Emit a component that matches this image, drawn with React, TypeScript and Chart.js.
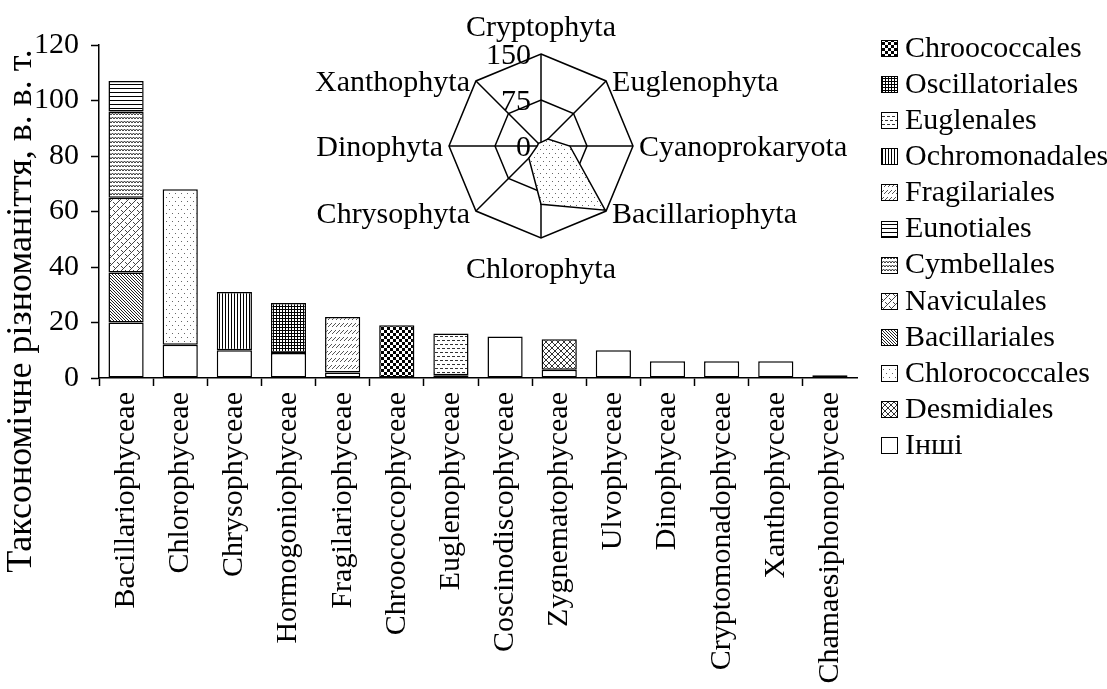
import React, { useEffect, useRef } from 'react';
import { Chart, registerables } from 'chart.js';

Chart.register(...registerables);

const FONT = "'Liberation Serif', 'Times New Roman', serif";

// ---------- data ----------
const categories = [
  'Bacillariophyceae', 'Chlorophyceae', 'Chrysophyceae', 'Hormogoniophyceae',
  'Fragilariophyceae', 'Chroococcophyceae', 'Euglenophyceae', 'Coscinodiscophyceae',
  'Zygnematophyceae', 'Ulvophyceae', 'Dinophyceae', 'Cryptomonadophyceae',
  'Xanthophyceae', 'Chamaesiphonophyceae',
];

const inshi =           [20, 12, 10, 9, 2, 0, 1, 15, 3, 10, 6, 6, 6, 1];
const desmidiales =     [0, 0, 0, 0, 0, 0, 0, 0, 11, 0, 0, 0, 0, 0];
const chlorococcales =  [0, 56, 0, 0, 0, 0, 0, 0, 0, 0, 0, 0, 0, 0];
const bacillariales =   [18, 0, 0, 0, 0, 0, 0, 0, 0, 0, 0, 0, 0, 0];
const naviculales =     [27, 0, 0, 0, 0, 0, 0, 0, 0, 0, 0, 0, 0, 0];
const cymbellales =     [31, 0, 0, 0, 0, 0, 0, 0, 0, 0, 0, 0, 0, 0];
const eunotiales =      [11, 0, 0, 0, 0, 0, 0, 0, 0, 0, 0, 0, 0, 0];
const fragilariales =   [0, 0, 0, 0, 20, 0, 0, 0, 0, 0, 0, 0, 0, 0];
const ochromonadales =  [0, 0, 21, 0, 0, 0, 0, 0, 0, 0, 0, 0, 0, 0];
const euglenales =      [0, 0, 0, 0, 0, 0, 15, 0, 0, 0, 0, 0, 0, 0];
const oscillatoriales = [0, 0, 0, 18, 0, 0, 0, 0, 0, 0, 0, 0, 0, 0];
const chroococcales =   [0, 0, 0, 0, 0, 19, 0, 0, 0, 0, 0, 0, 0, 0];

// stack order: bottom -> top
const seriesNames = [
  'Інші', 'Desmidiales', 'Chlorococcales', 'Bacillariales', 'Naviculales', 'Cymbellales',
  'Eunotiales', 'Fragilariales', 'Ochromonadales', 'Euglenales', 'Oscillatoriales', 'Chroococcales',
];
const seriesValues = [
  inshi, desmidiales, chlorococcales, bacillariales, naviculales, cymbellales,
  eunotiales, fragilariales, ochromonadales, euglenales, oscillatoriales, chroococcales,
];
const seriesPatterns = [
  'white', 'cross', 'dots', 'diagDown', 'weave', 'wave',
  'horiz', 'shortDiag', 'vert', 'dashH', 'grid', 'checker',
];

const yTicks = [0, 20, 40, 60, 80, 100, 120];
const yTitle = 'Таксономічне різноманіття, в. в. т.';

const radarLabels = [
  'Cryptophyta', 'Euglenophyta', 'Cyanoprokaryota', 'Bacillariophyta',
  'Chlorophyta', 'Chrysophyta', 'Dinophyta', 'Xanthophyta',
];
const radarValues = [6, 16, 47, 148, 95, 28, 6, 6];
const radarTicks = [0, 75, 150];

// ---------- patterns ----------
function makePattern(kind: string): CanvasPattern | string {
  if (kind === 'white') return '#ffffff';
  const c = document.createElement('canvas');
  const g = c.getContext('2d') as CanvasRenderingContext2D;
  const size = (w: number, h: number) => {
    c.width = w; c.height = h;
    g.fillStyle = '#fff'; g.fillRect(0, 0, w, h);
  };
  const diag = (s: number, dir: number, color: string, lw = 1) => {
    g.strokeStyle = color; g.lineWidth = lw;
    for (let k = -s; k <= s; k += s) {
      g.beginPath();
      if (dir === 1) { g.moveTo(k, s); g.lineTo(k + s, 0); }
      else { g.moveTo(k, 0); g.lineTo(k + s, s); }
      g.stroke();
    }
  };
  switch (kind) {
    case 'checker':
      size(6, 6); g.fillStyle = '#000'; g.fillRect(0, 0, 3, 3); g.fillRect(3, 3, 3, 3); break;
    case 'grid':
      size(3, 3); g.fillStyle = '#000'; g.fillRect(0, 0, 3, 1); g.fillRect(0, 0, 1, 3); break;
    case 'dashH':
      size(10, 8); g.fillStyle = '#333';
      g.fillRect(0, 0, 3, 1); g.fillRect(5, 0, 3, 1); g.fillRect(2, 4, 3, 1); g.fillRect(7, 4, 3, 1); break;
    case 'vert':
      size(3, 3); g.fillStyle = '#000'; g.fillRect(0, 0, 1, 3); break;
    case 'shortDiag':
      size(4, 7); g.strokeStyle = '#555'; g.lineWidth = 1;
      g.beginPath(); g.moveTo(0, 5); g.lineTo(4, 1); g.stroke(); break;
    case 'horiz':
      size(4, 4); g.fillStyle = '#000'; g.fillRect(0, 0, 4, 1); break;
    case 'wave':
      size(6, 4); g.strokeStyle = '#333'; g.lineWidth = 1;
      g.beginPath(); g.moveTo(0, 3); g.lineTo(1.5, 1); g.lineTo(3, 3); g.lineTo(4.5, 1); g.lineTo(6, 3); g.stroke(); break;
    case 'weave':
      size(8, 8); diag(8, 1, '#444');
      g.beginPath(); g.moveTo(1, 2); g.lineTo(3, 4); g.moveTo(5, 6); g.lineTo(7, 8); g.stroke(); break;
    case 'diagDown':
      size(3, 3); diag(3, -1, '#222'); break;
    case 'cross':
      size(6, 6); diag(6, 1, '#333'); diag(6, -1, '#333'); break;
    case 'dots':
      size(6, 8); g.fillStyle = '#666'; g.fillRect(1, 1, 1, 1); g.fillRect(4, 5, 1, 1); break;
  }
  return g.createPattern(c, 'repeat') as CanvasPattern;
}

// ---------- plugins ----------
const barTextPlugin = {
  id: 'barText',
  afterDraw(chart: any) {
    const ctx = chart.ctx as CanvasRenderingContext2D;
    const ds = chart.data.datasets;
    ctx.save();
    // legend (reverse stack order)
    ctx.font = `30px ${FONT}`;
    ctx.textBaseline = 'middle';
    ctx.textAlign = 'left';
    for (let row = 0; row < ds.length; row++) {
      const d = ds[ds.length - 1 - row];
      const y = 48 + row * 36.1;
      ctx.fillStyle = d.backgroundColor;
      ctx.fillRect(881, Math.round(y) - 8, 17, 17);
      ctx.strokeStyle = '#000';
      ctx.lineWidth = 1;
      ctx.strokeRect(881.5, Math.round(y) - 7.5, 16, 16);
      ctx.fillStyle = '#000';
      ctx.fillText(d.label, 905, y + 1);
    }
    // y-axis title
    ctx.translate(22, 311);
    ctx.rotate(-Math.PI / 2);
    ctx.textAlign = 'center';
    ctx.font = `36px ${FONT}`;
    ctx.fillText(yTitle, 0, 0);
    ctx.restore();
  },
};

const radarTextPlugin = {
  id: 'radarText',
  afterDraw(chart: any) {
    const ctx = chart.ctx as CanvasRenderingContext2D;
    const r = chart.scales.r;
    ctx.save();
    ctx.fillStyle = '#000';
    ctx.font = `30px ${FONT}`;
    ctx.textBaseline = 'middle';
    ctx.textAlign = 'right';
    radarTicks.forEach((v) => {
      const d = r.getDistanceFromCenterForValue(v);
      ctx.fillText(String(v), r.xCenter - 10, r.yCenter - d + 2);
    });
    const n = radarLabels.length;
    radarLabels.forEach((lab, i) => {
      const p = r.getPointPosition(i, r.drawingArea);
      const ang = (i * 360) / n;
      let x = p.x;
      let y = p.y;
      let align: CanvasTextAlign = 'center';
      if (ang === 0) { y -= 26; }
      else if (ang === 180) { y += 32; }
      else if (ang < 180) { align = 'left'; x += 6; y += ang > 90 ? 4 : 2; }
      else { align = 'right'; x -= 6; y += ang < 270 ? 4 : 2; }
      ctx.textAlign = align;
      ctx.fillText(lab, x, y);
    });
    ctx.restore();
  },
};

export default function App() {
  const barRef = useRef<HTMLCanvasElement>(null);
  const radarRef = useRef<HTMLCanvasElement>(null);

  useEffect(() => {
    Chart.defaults.color = '#000';
    Chart.defaults.font.family = FONT;

    const datasets = seriesNames.map((name, i) => ({
      label: name,
      data: seriesValues[i].map((v) => (v ? v : null)),
      backgroundColor: makePattern(seriesPatterns[i]) as any,
      borderColor: '#000',
      borderWidth: 1.5,
      borderSkipped: false as const,
      barPercentage: 0.65,
      categoryPercentage: 1,
    }));

    const bar = new Chart(barRef.current as HTMLCanvasElement, {
      type: 'bar',
      data: { labels: categories, datasets },
      options: {
        responsive: false,
        animation: false,
        devicePixelRatio: 1,
        layout: { padding: { left: 0, top: 45, right: 250, bottom: 0 } },
        plugins: { legend: { display: false }, tooltip: { enabled: false } },
        scales: {
          x: {
            stacked: true,
            offset: true,
            grid: {
              offset: true,
              drawOnChartArea: false,
              drawTicks: true,
              tickLength: 8,
              tickWidth: 1.5,
              tickColor: (c: any) => (c.type === 'tick' ? '#000' : 'rgba(0,0,0,0)'),
            },
            border: { display: true, color: '#000', width: 1.5 },
            ticks: {
              autoSkip: false,
              minRotation: 90,
              maxRotation: 90,
              padding: 6,
              color: '#000',
              font: { family: FONT, size: 30 },
            },
            afterFit: (s: any) => { s.height = 689 - 378; },
          },
          y: {
            stacked: true,
            min: 0,
            max: 120,
            afterBuildTicks: (s: any) => { s.ticks = yTicks.map((v) => ({ value: v })); },
            grid: {
              drawOnChartArea: false,
              drawTicks: true,
              tickLength: 8,
              tickWidth: 1.5,
              tickColor: '#000',
            },
            border: { display: true, color: '#000', width: 1.5 },
            ticks: { padding: 12, color: '#000', font: { family: FONT, size: 30 } },
            afterFit: (s: any) => { s.width = 99; },
          },
        },
      },
      plugins: [barTextPlugin],
    });

    const radar = new Chart(radarRef.current as HTMLCanvasElement, {
      type: 'radar',
      data: {
        labels: radarLabels,
        datasets: [{
          data: radarValues,
          backgroundColor: makePattern('dots') as any,
          borderColor: '#000',
          borderWidth: 1.5,
          pointRadius: 0,
          fill: true,
        }],
      },
      options: {
        responsive: false,
        animation: false,
        devicePixelRatio: 1,
        layout: { padding: { top: 54, bottom: 62, left: 100, right: 178 } },
        plugins: { legend: { display: false }, tooltip: { enabled: false } },
        scales: {
          r: {
            min: 0,
            max: 150,
            ticks: { display: false, stepSize: 75 },
            pointLabels: { display: false },
            grid: { color: '#000', lineWidth: 1.5 },
            angleLines: { color: '#000', lineWidth: 1.5 },
          },
        },
      },
      plugins: [radarTextPlugin],
    });

    return () => { bar.destroy(); radar.destroy(); };
  }, []);

  return (
    <div style={{ position: 'absolute', left: 0, top: 0, width: 1107, height: 689, overflow: 'hidden', background: '#fff' }}>
      <canvas ref={barRef} width={1107} height={689} style={{ position: 'absolute', left: 0, top: 0 }} />
      <canvas ref={radarRef} width={580} height={300} style={{ position: 'absolute', left: 290, top: 0 }} />
    </div>
  );
}
